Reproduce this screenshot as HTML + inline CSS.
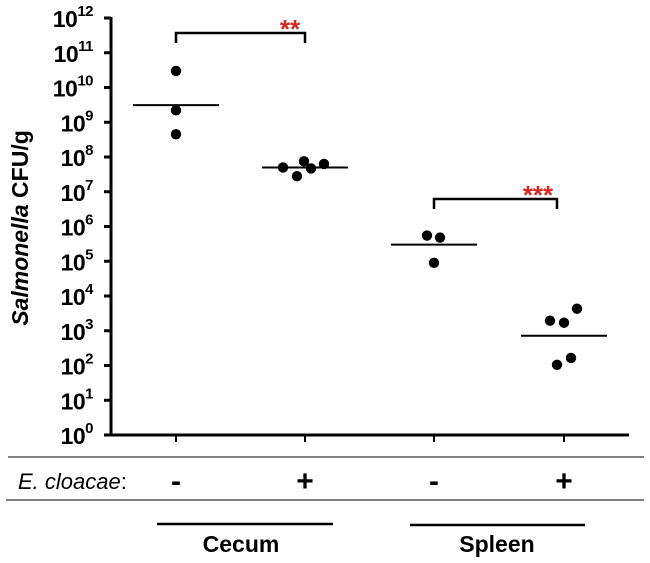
<!DOCTYPE html>
<html><head><meta charset="utf-8"><style>
body{margin:0;background:#fff;}
svg{display:block;font-family:"Liberation Sans",Arial,sans-serif;}
</style></head><body>
<svg id="chart" width="650" height="563" viewBox="0 0 650 563"></svg>
<script>
const groups = ["cecum-minus","cecum-plus","spleen-minus","spleen-plus"];
const groupX = [176, 305, 434, 564];
const pointOffsets = [[0,0,0],[-22,-8,-1,6,19],[-7,6,0],[-14,0,13,-7,7]];
const values = [
 [3e10, 2.2e9, 4.5e8],
 [5e7, 2.8e7, 7.5e7, 4.7e7, 6.3e7],
 [5.5e5, 4.8e5, 9e4],
 [1950, 1700, 4300, 105, 165]
];
const means = [3.1e9, 5e7, 3e5, 720];
const yTickExps = [0,1,2,3,4,5,6,7,8,9,10,11,12];
const signs = ["-","+","-","+"];

const NS="http://www.w3.org/2000/svg";
const svg=document.getElementById('chart');
function y(v){return 435 - 34.75*Math.log10(v);}
function el(t,a,txt){const e=document.createElementNS(NS,t);for(const k in a)e.setAttribute(k,a[k]);if(txt!=null)e.textContent=txt;svg.appendChild(e);return e;}

let e;
e=el('line',{x1:111,y1:17,x2:111,y2:436,stroke:'#000','stroke-width':3});


e=el('line',{x1:109,y1:435,x2:629,y2:435,stroke:'#000','stroke-width':3});


yTickExps.forEach(p=>{
  const yy=y(Math.pow(10,p));
  let t=el('line',{x1:104,y1:yy,x2:111,y2:yy,stroke:'#000','stroke-width':3});
  
  
  let tx=el('text',{x:93,y:yy+9,'text-anchor':'end','font-size':23,'font-weight':'bold','letter-spacing':'-0.5'});
  
  
  tx.innerHTML='10<tspan dy="-11" font-size="15">'+p+'</tspan>';
});
e=el('text',{transform:'translate(28,228) rotate(-90)','text-anchor':'middle','font-size':23,'font-weight':'bold'});
e.innerHTML='<tspan font-style="italic">Salmonella</tspan> CFU/g';



groups.forEach((g,i)=>{
  const gx=groupX[i];
  let t=el('line',{x1:gx,y1:435,x2:gx,y2:442,stroke:'#000','stroke-width':2});
  
  
  let m=el('line',{x1:gx-43,y1:y(means[i]),x2:gx+43,y2:y(means[i]),stroke:'#000','stroke-width':2});
  
  
  values[i].forEach((v,j)=>{
    let c=el('circle',{cx:gx+pointOffsets[i][j],cy:y(v),r:5.2,fill:'#000'});
    
    
  });
  let s=el('text',{x:gx,y:491,'text-anchor':'middle','font-size':30,'font-weight':'bold'},signs[i]);
  
  
});

function bracket(x1,x2,yy,stars,sx,name){
  let p=el('path',{d:`M${x1} ${yy+10} V${yy} H${x2} V${yy+10}`,fill:'none',stroke:'#000','stroke-width':2.5});
  
  
  let t=el('text',{x:sx,y:yy+5,'text-anchor':'middle','font-size':26,'font-weight':'bold',fill:'#d42a20'},stars);
  
  
}
bracket(176,305,33,'**',290,'bracket-cecum');
bracket(434,557,199,'***',538,'bracket-spleen');

e=el('line',{x1:8,y1:457,x2:644,y2:457,stroke:'#000','stroke-width':1});


e=el('line',{x1:6,y1:500,x2:644,y2:500,stroke:'#000','stroke-width':1});


e=el('text',{x:18,y:489,'font-size':22},null);
e.innerHTML='<tspan font-style="italic">E. cloacae</tspan>:';


e=el('line',{x1:157,y1:524,x2:333,y2:524,stroke:'#000','stroke-width':2.5});


e=el('line',{x1:410,y1:525,x2:585,y2:525,stroke:'#000','stroke-width':2.5});


e=el('text',{x:241,y:552,'text-anchor':'middle','font-size':23,'font-weight':'bold'},'Cecum');


e=el('text',{x:497,y:552,'text-anchor':'middle','font-size':23,'font-weight':'bold'},'Spleen');


</script>
</body></html>
